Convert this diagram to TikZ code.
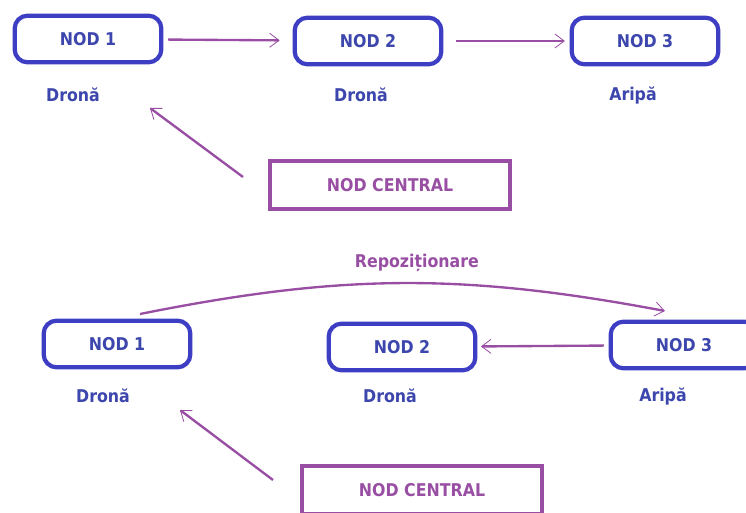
\documentclass[tikz,border=0pt]{standalone}
\usepackage{fontspec}
\setmainfont{DejaVu Sans Condensed}
\usepackage{tikz}
\usetikzlibrary{arrows,arrows.meta}
\definecolor{nodblue}{RGB}{62,62,196}
\definecolor{txtblue}{RGB}{60,70,172}
\definecolor{centpurple}{RGB}{152,78,162}

\begin{document}
\begin{tikzpicture}[x=0.03cm, y=-0.03cm,
  dronebox/.style={font=\bfseries\fontsize{15}{17}\selectfont, text=txtblue, draw=nodblue, line width=3.6pt, rounded corners=11pt, minimum width=4.4cm, minimum height=1.4cm, inner sep=2, align=center},
  rolelabel/.style={font=\bfseries\fontsize{15}{17}\selectfont, text=txtblue},
  centralbox/.style={font=\bfseries\fontsize{15}{17}\selectfont, text=centpurple, draw=centpurple, line width=3.6pt, minimum width=7.2cm, minimum height=1.45cm, inner sep=2},
  link/.style={draw=centpurple, line width=2pt, -{Straight Barb[length=8pt,width=12pt,line width=0.7pt]}}]
\useasboundingbox (0,0) rectangle (746,513);
%top: before
\node[dronebox] (n1) at (88,39) {NOD 1};
\node[dronebox] (n2) at (368,41) {NOD 2};
\node[dronebox] (n3) at (645,41) {NOD 3};
\node[rolelabel] (r1) at (73,95) {Dronă};
\node[rolelabel] (r2) at (361,95) {Dronă};
\node[rolelabel] (r3) at (633,95) {Aripă};
\node[centralbox] (c1) at (390,185) {NOD CENTRAL};
\coordinate (c1from) at (243,177);
\coordinate (c1to) at (150,108);
\path (n1) edge[link, shorten <=4pt, shorten >=11pt] (n2);
\path (n2) edge[link, shorten <=11pt, shorten >=4pt] (n3);
\path (c1from) edge[link] (c1to);
%bottom: after
\node[dronebox] (m1) at (117,344) {NOD 1};
\node[dronebox] (m2) at (402,347) {NOD 2};
\node[dronebox] (m3) at (684,345) {NOD 3};
\node[rolelabel] (s1) at (103,396) {Dronă};
\node[rolelabel] (s2) at (390,396) {Dronă};
\node[rolelabel] (s3) at (663,396) {Aripă};
\node[centralbox] (c2) at (422,490) {NOD CENTRAL};
\coordinate (c2from) at (273,480);
\coordinate (c2to) at (180,410);
\coordinate (m1top) at (140,314);
\coordinate (m3top) at (665,311);
\path (m3) edge[link, shorten <=4pt, shorten >=3pt] (m2);
\path (c2from) edge[link] (c2to);
\draw [link] (m1top) to[bend left=11] node[pos=0.53, above=5pt, font=\bfseries\fontsize{15}{17}\selectfont, text=centpurple] (rep) {Repoziționare} (m3top);
\end{tikzpicture}
\end{document}
